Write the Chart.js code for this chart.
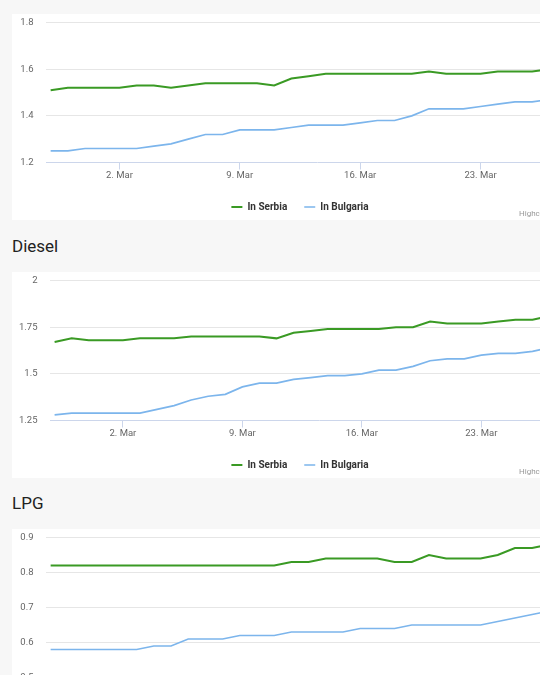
<!DOCTYPE html>
<html>
<head>
<meta charset="utf-8">
<script src="https://cdn.jsdelivr.net/npm/chart.js@4/dist/chart.umd.min.js"></script>
<style>
html,body{margin:0;padding:0;}
body{width:540px;height:675px;overflow:hidden;background:#f7f7f7;position:relative;font-family:Roboto,"Noto Sans",sans-serif;}
.box{position:absolute;left:12px;width:576px;height:206px;background:#fff;}
.box canvas{position:absolute;left:0;top:0;}
.credits{position:absolute;left:507px;top:196px;font-size:8px;line-height:8px;color:#999;white-space:nowrap;}
.title{position:absolute;left:12px;font-size:17px;line-height:17px;color:#222;white-space:nowrap;}
</style>
</head>
<body>
<div class="box" style="top:14px"><canvas id="c1" width="576" height="210"></canvas><div class="credits">Highcharts.com</div></div>
<div class="title" style="top:238px">Diesel</div>
<div class="box" style="top:272px"><canvas id="c2" width="576" height="210"></canvas><div class="credits">Highcharts.com</div></div>
<div class="title" style="top:495px">LPG</div>
<div class="box" style="top:529px"><canvas id="c3" width="576" height="210"></canvas><div class="credits">Highcharts.com</div></div>
<script>
const dates = ["26. Feb","27. Feb","28. Feb","1. Mar","2. Mar","3. Mar","4. Mar","5. Mar","6. Mar","7. Mar",
  "8. Mar","9. Mar","10. Mar","11. Mar","12. Mar","13. Mar","14. Mar","15. Mar","16. Mar","17. Mar",
  "18. Mar","19. Mar","20. Mar","21. Mar","22. Mar","23. Mar","24. Mar","25. Mar","26. Mar","27. Mar"];
const xTickLabels = ["2. Mar","9. Mar","16. Mar","23. Mar"];
const seriesNames = ["In Serbia","In Bulgaria"];

const petrolSerbia = [1.51,1.52,1.52,1.52,1.52,1.53,1.53,1.52,1.53,1.54,1.54,1.54,1.54,1.53,1.56,
  1.57,1.58,1.58,1.58,1.58,1.58,1.58,1.59,1.58,1.58,1.58,1.59,1.59,1.59,1.60];
const petrolBulgaria = [1.25,1.25,1.26,1.26,1.26,1.26,1.27,1.28,1.30,1.32,1.32,1.34,1.34,1.34,1.35,
  1.36,1.36,1.36,1.37,1.38,1.38,1.40,1.43,1.43,1.43,1.44,1.45,1.46,1.46,1.47];
const petrolTicks = [1.2,1.4,1.6,1.8];

const dieselSerbia = [1.67,1.69,1.68,1.68,1.68,1.69,1.69,1.69,1.70,1.70,1.70,1.70,1.70,1.69,1.72,
  1.73,1.74,1.74,1.74,1.74,1.75,1.75,1.78,1.77,1.77,1.77,1.78,1.79,1.79,1.81];
const dieselBulgaria = [1.28,1.29,1.29,1.29,1.29,1.29,1.31,1.33,1.36,1.38,1.39,1.43,1.45,1.45,1.47,
  1.48,1.49,1.49,1.50,1.52,1.52,1.54,1.57,1.58,1.58,1.60,1.61,1.61,1.62,1.64];
const dieselTicks = [1.25,1.5,1.75,2];

const lpgSerbia = [0.82,0.82,0.82,0.82,0.82,0.82,0.82,0.82,0.82,0.82,0.82,0.82,0.82,0.82,0.83,
  0.83,0.84,0.84,0.84,0.84,0.83,0.83,0.85,0.84,0.84,0.84,0.85,0.87,0.87,0.88];
const lpgBulgaria = [0.58,0.58,0.58,0.58,0.58,0.58,0.59,0.59,0.61,0.61,0.61,0.62,0.62,0.62,0.63,
  0.63,0.63,0.63,0.64,0.64,0.64,0.65,0.65,0.65,0.65,0.65,0.66,0.67,0.68,0.69];
const lpgTicks = [0.5,0.6,0.7,0.8,0.9];

const GREEN = '#3a9a24';
const BLUE = '#7cb5ec';
const FONT = 'Roboto, "Noto Sans", sans-serif';

function makeChart(id, serbia, bulgaria, yTicks, yWidth) {
  const yMin = yTicks[0], yMax = yTicks[yTicks.length - 1];
  const toPts = arr => arr.map((v, i) => ({x: i, y: v}));
  new Chart(document.getElementById(id), {
    type: 'line',
    data: {
      datasets: [
        {label: seriesNames[0], data: toPts(serbia), borderColor: GREEN, backgroundColor: GREEN,
         borderWidth: 2, pointRadius: 0, tension: 0, fill: false},
        {label: seriesNames[1], data: toPts(bulgaria), borderColor: BLUE, backgroundColor: BLUE,
         borderWidth: 1.7, pointRadius: 0, tension: 0, fill: false}
      ]
    },
    options: {
      responsive: false,
      animation: false,
      events: [],
      layout: {padding: {top: 8.5, bottom: 2, left: 0, right: 0}},
      scales: {
        x: {
          type: 'linear', min: -0.27, max: 31.25, bounds: 'data',
          afterBuildTicks: s => { s.ticks = xTickLabels.map(l => ({value: dates.indexOf(l)})); },
          afterFit: s => { s.height = 22.5; },
          ticks: {callback: v => dates[v], color: '#666', font: {size: 9.5, family: FONT},
                  padding: 0.5, maxRotation: 0, autoSkip: false},
          grid: {drawOnChartArea: false, drawTicks: true, tickLength: 7, color: '#ccd6eb', tickColor: '#ccd6eb'},
          border: {display: true, color: '#ccd6eb', width: 1}
        },
        y: {
          min: yMin, max: yMax, bounds: 'data',
          afterBuildTicks: s => { s.ticks = yTicks.map(v => ({value: v})); },
          afterFit: s => { s.width = yWidth; },
          ticks: {callback: v => String(v), color: '#666', font: {size: 9.5, family: FONT}, padding: 0},
          grid: {drawTicks: true, tickLength: 12.5, tickColor: 'rgba(0,0,0,0)',
                 color: c => (c.tick && c.tick.value === yMin) ? 'rgba(0,0,0,0)' : '#e6e6e6'},
          border: {display: false}
        }
      },
      plugins: {
        legend: {
          position: 'bottom',
          labels: {boxWidth: 11, boxHeight: 0, padding: 17, color: '#333',
                   font: {size: 10, weight: 'bold', family: FONT}}
        },
        tooltip: {enabled: false}
      }
    }
  });
}

makeChart('c1', petrolSerbia, petrolBulgaria, petrolTicks, 34);
makeChart('c2', dieselSerbia, dieselBulgaria, dieselTicks, 38);
makeChart('c3', lpgSerbia, lpgBulgaria, lpgTicks, 34);
</script>
</body>
</html>
